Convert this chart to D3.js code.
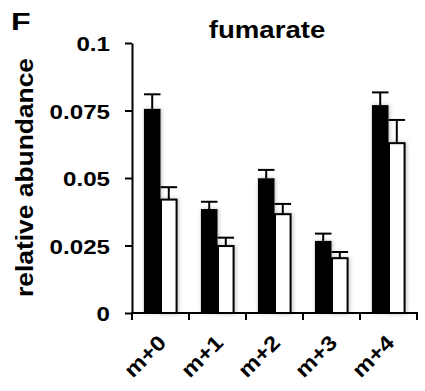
<!DOCTYPE html>
<html>
<head>
<meta charset="utf-8">
<script src="https://cdn.jsdelivr.net/npm/d3@7"></script>
<style>
  body { margin: 0; background: #fff; }
  text { font-family: "Liberation Sans", Arial, sans-serif; font-weight: bold; fill: #000; }
</style>
</head>
<body>
<div id="chart"></div>
<script>
// data
const categories = ['m+0', 'm+1', 'm+2', 'm+3', 'm+4'];
const series = ['dark', 'light'];
const darkValues = [0.0756, 0.0385, 0.0499, 0.0267, 0.077];
const darkErrors = [0.0054, 0.0027, 0.0031, 0.0027, 0.0047];
const lightValues = [0.042, 0.0248, 0.0366, 0.0203, 0.0629];
const lightErrors = [0.0046, 0.0031, 0.0038, 0.0023, 0.0086];
const yTicks = [0, 0.025, 0.05, 0.075, 0.1];
const yTickLabels = ['0', '0.025', '0.05', '0.075', '0.1'];

const width = 425, height = 391;
const plotLeft = 132, plotRight = 417, plotTop = 43, plotBottom = 313;
const stretch = 1.15;

const svg = d3.select('#chart').append('svg')
  .attr('width', width)
  .attr('height', height);

// soft shadow behind the bars
const filter = svg.append('defs').append('filter')
  .attr('id', 'shadow').attr('x', '-50%').attr('y', '-10%').attr('width', '200%').attr('height', '120%');
filter.append('feDropShadow')
  .attr('dx', 1).attr('dy', 0).attr('stdDeviation', 2)
  .attr('flood-color', '#000').attr('flood-opacity', 0.25);

const x0 = d3.scaleBand().domain(categories).range([plotLeft, plotRight]).padding(0);
const x1 = d3.scaleBand().domain(series).range([0, x0.bandwidth()]).paddingInner(0).paddingOuter(0.72);
const y = d3.scaleLinear().domain([0, 0.1]).range([plotBottom, plotTop]);

const rows = categories.map((c, i) => ({
  cat: c,
  bars: [
    { key: 'dark', value: darkValues[i], err: darkErrors[i] },
    { key: 'light', value: lightValues[i], err: lightErrors[i] }
  ]
}));

// stretch text a bit wider, the original font runs wide
function widen(sel) {
  sel.each(function () {
    const w = this.getComputedTextLength();
    d3.select(this).attr('textLength', w * stretch).attr('lengthAdjust', 'spacingAndGlyphs');
  });
}

const groups = svg.append('g').selectAll('g')
  .data(rows)
  .join('g')
  .attr('transform', d => `translate(${x0(d.cat)},0)`);

groups.selectAll('rect')
  .data(d => d.bars)
  .join('rect')
  .attr('x', d => x1(d.key) + (d.key === 'light' ? 0.5 : 0))
  .attr('y', d => y(d.value))
  .attr('width', d => x1.bandwidth() - (d.key === 'light' ? 1 : 0))
  .attr('height', d => y(0) - y(d.value))
  .attr('fill', d => d.key === 'dark' ? '#000' : '#fff')
  .attr('stroke', '#000')
  .attr('stroke-width', d => d.key === 'dark' ? 0 : 2)
  .attr('filter', 'url(#shadow)');

// error bars, upper half only
const err = groups.selectAll('g.err')
  .data(d => d.bars)
  .join('g')
  .attr('class', 'err')
  .attr('stroke', '#000')
  .attr('stroke-width', 2);

err.append('line')
  .attr('x1', d => x1(d.key) + x1.bandwidth() / 2)
  .attr('x2', d => x1(d.key) + x1.bandwidth() / 2)
  .attr('y1', d => y(d.value))
  .attr('y2', d => y(d.value + d.err));

err.append('line')
  .attr('x1', d => x1(d.key))
  .attr('x2', d => x1(d.key) + x1.bandwidth())
  .attr('y1', d => y(d.value + d.err))
  .attr('y2', d => y(d.value + d.err));

// y axis
const yAxis = svg.append('g')
  .attr('transform', `translate(${plotLeft},0)`)
  .call(d3.axisLeft(y).tickValues(yTicks).tickFormat((d, i) => yTickLabels[i]).tickSize(7).tickSizeOuter(0).tickPadding(15));
yAxis.select('.domain').attr('stroke-width', 2);
yAxis.selectAll('.tick line').attr('stroke-width', 2);
yAxis.selectAll('.tick text')
  .attr('font-size', 21)
  .attr('dy', '0.36em')
  .style('font-family', '"Liberation Sans", Arial, sans-serif')
  .style('font-weight', 'bold')
  .call(widen);

// x axis: line plus ticks on the band edges
const xAxis = svg.append('g');
xAxis.append('line')
  .attr('x1', plotLeft - 1).attr('x2', plotRight + 1)
  .attr('y1', plotBottom).attr('y2', plotBottom)
  .attr('stroke', '#000').attr('stroke-width', 2);
const edges = categories.map(c => x0(c)).concat([x0.range()[1]]);
xAxis.selectAll('line.edge')
  .data(edges)
  .join('line')
  .attr('class', 'edge')
  .attr('x1', d => d).attr('x2', d => d)
  .attr('y1', plotBottom).attr('y2', plotBottom + 7)
  .attr('stroke', '#000').attr('stroke-width', 2);

// rotated category labels: -45 degrees, slightly widened along the baseline
const h = Math.SQRT1_2;
xAxis.selectAll('text.lab')
  .data(categories)
  .join('text')
  .attr('class', 'lab')
  .attr('transform', d => `matrix(${h * stretch},${-h * stretch},${h},${h},${x0(d) + x0.bandwidth() / 2 + 7},${plotBottom + 31})`)
  .attr('text-anchor', 'end')
  .attr('font-size', 21)
  .text(d => d);

// title, panel letter, axis label
svg.append('text')
  .attr('x', 267).attr('y', 38)
  .attr('text-anchor', 'middle')
  .attr('font-size', 24)
  .text('fumarate')
  .call(widen);

svg.append('text')
  .attr('transform', 'translate(11,30) scale(1.4,1)')
  .attr('font-size', 23)
  .text('F');

svg.append('text')
  .attr('transform', `translate(33,${(58 + 297) / 2}) rotate(-90)`)
  .attr('text-anchor', 'middle')
  .attr('font-size', 24)
  .attr('textLength', 239).attr('lengthAdjust', 'spacingAndGlyphs')
  .text('relative abundance');
</script>
</body>
</html>
